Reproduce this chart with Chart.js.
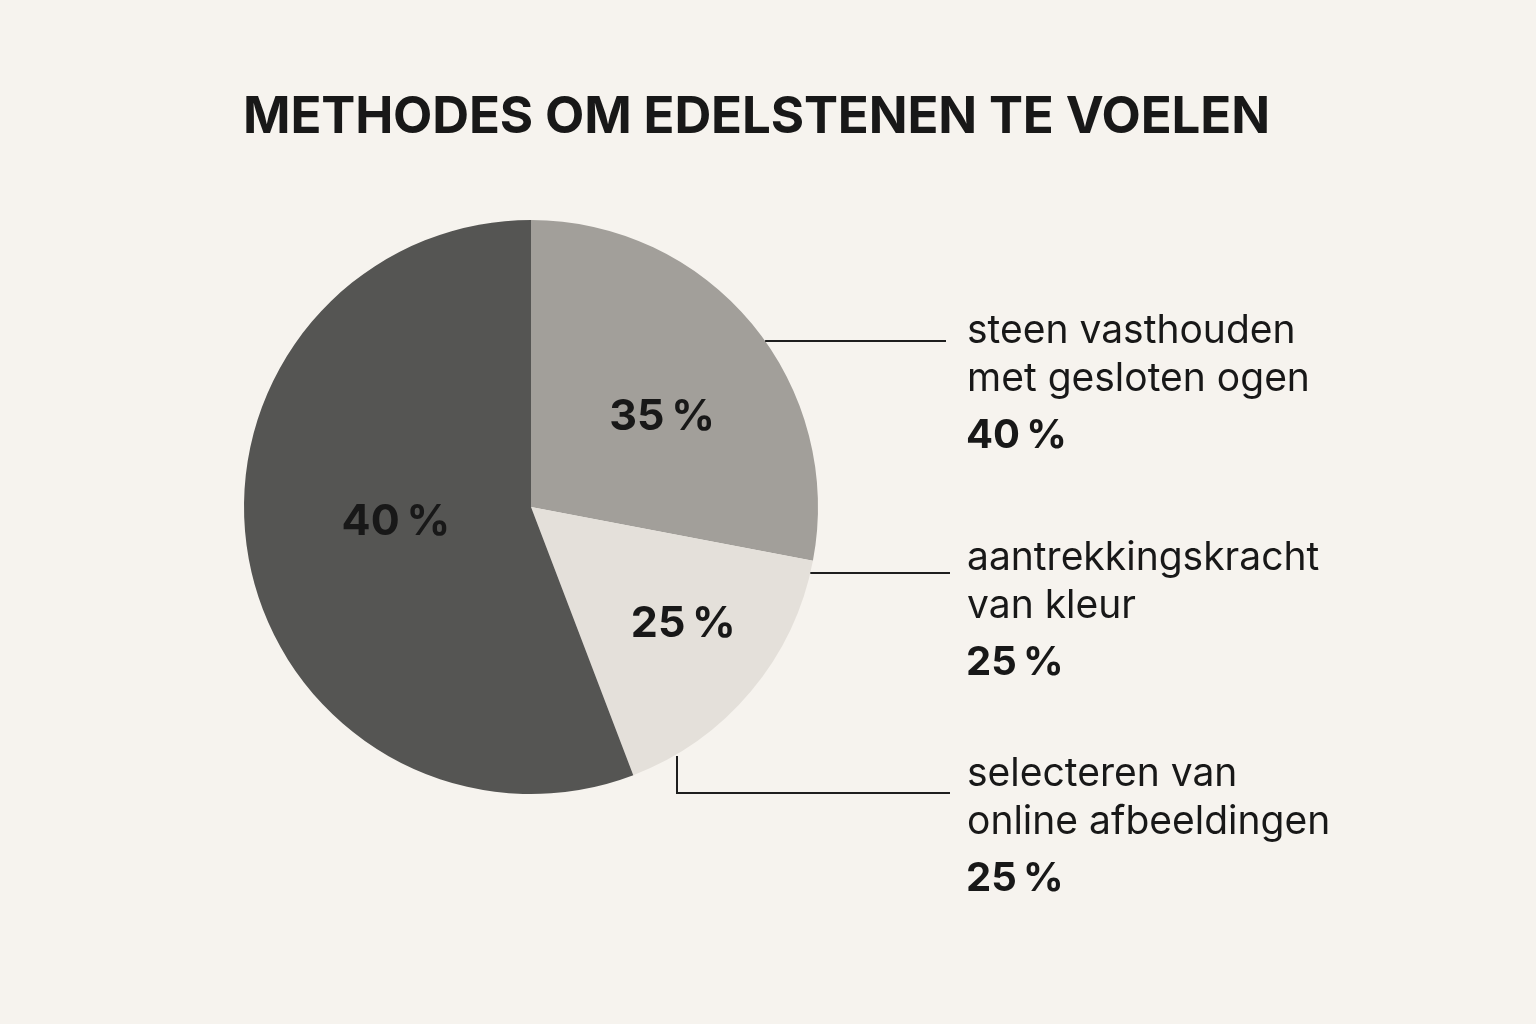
<!DOCTYPE html>
<html>
<head>
<meta charset="utf-8">
<script src="https://cdn.jsdelivr.net/npm/chart.js@4.4.1/dist/chart.umd.min.js"></script>
<style>
  html, body { margin: 0; padding: 0; background: #f6f3ee; }
  #wrap { width: 1536px; height: 1024px; position: relative; }
</style>
</head>
<body>
<div id="wrap"><canvas id="c" width="1536" height="1024"></canvas></div>
<script>
// ---- data ----
const chartTitle = 'METHODES OM EDELSTENEN TE VOELEN';
const sliceNames = ['steen vasthouden met gesloten ogen', 'aantrekkingskracht van kleur', 'selecteren van online afbeeldingen'];
const sliceShares = [28.0, 16.2, 55.8];          // arc sizes as drawn
const sliceLabels = ['35\u202F%', '25\u202F%', '40\u202F%'];
const legendLines = [
  ['steen vasthouden', 'met gesloten ogen'],
  ['aantrekkingskracht', 'van kleur'],
  ['selecteren van', 'online afbeeldingen']
];
const legendValues = ['40\u202F%', '25\u202F%', '25\u202F%'];

// ---- styles ----
const sliceColors = ['#a29f9a', '#e4e0da', '#555553'];
const labelRadius = [0.555, 0.67, 0.474];
const labelAngleFrac = [0.55, 0.46, 0.52];
const textColor = '#181818';
const FONT = 'Inter, "Liberation Sans", sans-serif';

const overlay = {
  id: 'overlay',
  afterDraw(chart) {
    const ctx = chart.ctx;
    const meta = chart.getDatasetMeta(0);
    const arc0 = meta.data[0];
    const cx = arc0.x, cy = arc0.y, R = arc0.outerRadius;

    // title
    ctx.save();
    ctx.fillStyle = textColor;
    ctx.font = '700 51px ' + FONT;
    ctx.textBaseline = 'alphabetic';
    ctx.textAlign = 'left';
    const targetW = 1027;
    ctx.letterSpacing = '0px';
    const w0 = ctx.measureText(chartTitle).width;
    const ls = (targetW - w0) / (chartTitle.length - 1);
    ctx.letterSpacing = ls.toFixed(2) + 'px';
    ctx.fillText(chartTitle, 243, 133);
    ctx.letterSpacing = '0px';
    ctx.restore();

    // slice labels
    ctx.save();
    ctx.fillStyle = textColor;
    ctx.font = '700 43px ' + FONT;
    ctx.textAlign = 'center';
    ctx.textBaseline = 'middle';
    meta.data.forEach((arc, i) => {
      const a = arc.startAngle + (arc.endAngle - arc.startAngle) * labelAngleFrac[i];
      const r = R * labelRadius[i];
      ctx.fillText(sliceLabels[i], cx + Math.cos(a) * r, cy + Math.sin(a) * r);
    });
    ctx.restore();

    // leader lines
    ctx.save();
    ctx.strokeStyle = '#1e1e1e';
    ctx.lineWidth = 2;
    const edgeX = (y) => cx + Math.sqrt(Math.max(0, R * R - (y - cy) * (y - cy)));
    const edgeY = (x) => cy + Math.sqrt(Math.max(0, R * R - (x - cx) * (x - cx)));
    ctx.beginPath();
    ctx.moveTo(edgeX(341), 341); ctx.lineTo(946, 341);
    ctx.moveTo(edgeX(573), 573); ctx.lineTo(950, 573);
    ctx.moveTo(677, edgeY(677) + 2); ctx.lineTo(677, 793); ctx.lineTo(950, 793);
    ctx.stroke();
    ctx.restore();

    // right-side labels
    const groupTop = [343, 570, 786];
    ctx.save();
    ctx.fillStyle = textColor;
    ctx.textAlign = 'left';
    ctx.textBaseline = 'alphabetic';
    legendLines.forEach((lines, i) => {
      ctx.font = '400 39px ' + FONT;
      lines.forEach((t, j) => ctx.fillText(t, 967, groupTop[i] + j * 48));
      ctx.font = '700 40px ' + FONT;
      ctx.fillText(legendValues[i], 966, groupTop[i] + 48 + 57);
    });
    ctx.restore();
  }
};

new Chart(document.getElementById('c'), {
  type: 'pie',
  data: {
    labels: sliceNames,
    datasets: [{
      data: sliceShares,
      backgroundColor: sliceColors,
      borderWidth: 0
    }]
  },
  options: {
    responsive: false,
    animation: false,
    layout: { padding: { left: 244, right: 718, top: 220, bottom: 230 } },
    plugins: { legend: { display: false }, tooltip: { enabled: false }, title: { display: false } }
  },
  plugins: [overlay]
});
</script>
</body>
</html>
